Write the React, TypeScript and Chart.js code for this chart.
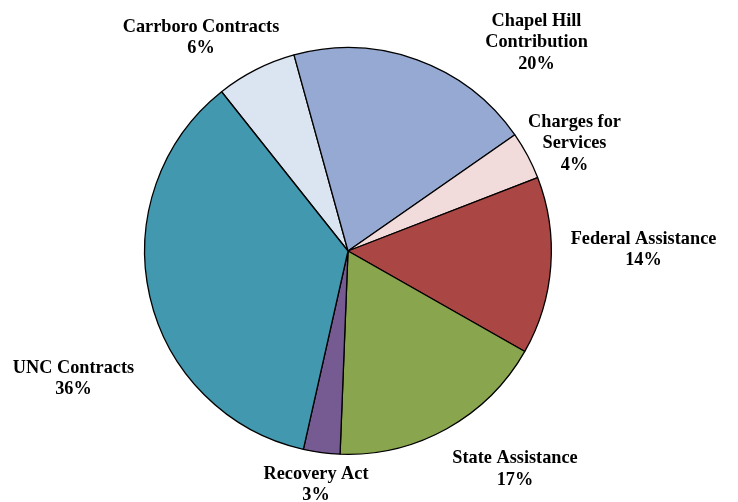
import React, { useEffect, useRef } from "react";
import { Chart, registerables } from "chart.js";

Chart.register(...registerables);

// Revenue sources, clockwise from the top-left
const categories = [
  ["Carrboro Contracts"],
  ["Chapel Hill", "Contribution"],
  ["Charges for", "Services"],
  ["Federal Assistance"],
  ["State Assistance"],
  ["Recovery Act"],
  ["UNC Contracts"],
];
const shares = [6.4, 19.6, 3.8, 14.1, 17.4, 2.9, 35.8];
const sliceColors = [
  "#DBE5F1",
  "#95A9D2",
  "#F2DCDB",
  "#AA4643",
  "#89A54E",
  "#765A92",
  "#4198AF",
];

// Centre of each label block, in pixels from the pie centre
const labelOffsets: [number, number][] = [
  [-147, -214.5],
  [188.5, -210],
  [226.5, -109],
  [295.5, -2.5],
  [167, 217],
  [-32, 232.5],
  [-274.5, 126.5],
];

const FONT_PX = 18.3;
const FONT = `bold ${FONT_PX}px 'Liberation Serif', 'Times New Roman', serif`;
const LINE_H = 21.5;
const CAP_HALF = FONT_PX * 0.33;

const sliceLabels = {
  id: "sliceLabels",
  afterDatasetsDraw(chart: any) {
    const ctx = chart.ctx;
    const meta = chart.getDatasetMeta(0);
    const data = chart.data.datasets[0].data as number[];
    const total = data.reduce((a, b) => a + b, 0);
    ctx.save();
    ctx.font = FONT;
    ctx.fillStyle = "#000";
    ctx.textAlign = "center";
    ctx.textBaseline = "alphabetic";
    meta.data.forEach((arc: any, i: number) => {
      const { x, y } = arc.getProps(["x", "y"], true);
      const lines = [...categories[i], Math.round((data[i] / total) * 100) + "%"];
      const [dx, dy] = labelOffsets[i];
      const cx = x + dx;
      const top = y + dy - ((lines.length - 1) * LINE_H) / 2;
      lines.forEach((t, k) => ctx.fillText(t, cx, top + k * LINE_H + CAP_HALF));
    });
    ctx.restore();
  },
};

export default function App() {
  const ref = useRef<HTMLCanvasElement>(null);
  useEffect(() => {
    document.body.style.margin = "0";
    const chart = new Chart(ref.current!, {
      type: "pie",
      data: {
        labels: categories.map((c) => c.join(" ")),
        datasets: [
          {
            data: shares,
            backgroundColor: sliceColors,
            borderColor: "#000",
            borderWidth: 1.3,
          },
        ],
      },
      options: {
        responsive: false,
        animation: false,
        rotation: -(shares[0] / 100) * 360 - 15.4,
        layout: { padding: { top: 47, bottom: 47, left: 0, right: 42 } },
        plugins: {
          legend: { display: false },
          tooltip: { enabled: false },
        },
      },
      plugins: [sliceLabels],
    });
    return () => chart.destroy();
  }, []);
  return (
    <div style={{ position: "absolute", left: 0, top: 0, width: 738, height: 502, background: "#fff" }}>
      <canvas ref={ref} width={738} height={502} />
    </div>
  );
}
